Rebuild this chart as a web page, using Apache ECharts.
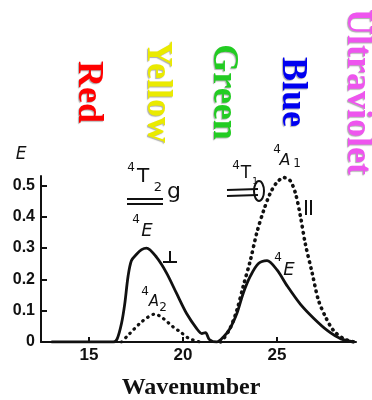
<!DOCTYPE html>
<html>
<head>
<meta charset="utf-8">
<script src="https://cdn.jsdelivr.net/npm/echarts@6/dist/echarts.min.js"></script>
<style>
html,body{margin:0;padding:0;background:#fff;}
#c{width:372px;height:400px;}
</style>
</head>
<body>
<div id="c"></div>
<script>
// ---- data ----
var xTicks = [15, 20, 25];
var yTicks = [0, 0.1, 0.2, 0.3, 0.4, 0.5];
var bandLabels = ['Red', 'Yellow', 'Green', 'Blue', 'Ultraviolet'];
var bandColors = ['#ff0000', '#eaea00', '#22cc22', '#0000f0', '#ee55ee'];

// solid curve (E perpendicular)
var perpX = [13.0, 16.3, 16.5, 16.73, 16.9, 17.08, 17.26, 17.53, 17.8, 18.06, 18.6, 19.13, 19.66, 20.2, 20.73, 21.0, 21.2, 21.4, 21.8, 22.15, 22.5, 22.86, 23.2, 23.58, 24.0, 24.47, 25.0, 25.53, 26.25, 26.96, 27.67, 28.4, 29.1];
var perpY = [0, 0, 0.01, 0.059, 0.12, 0.21, 0.26, 0.28, 0.295, 0.30, 0.27, 0.22, 0.155, 0.09, 0.043, 0.027, 0.03, 0.008, 0, 0.016, 0.043, 0.09, 0.155, 0.21, 0.25, 0.26, 0.23, 0.18, 0.12, 0.075, 0.037, 0.01, 0];

// dotted curve (E parallel), 4A2 band
var a2X = [16.73, 17.17, 17.7, 18.15, 18.5, 18.95, 19.48, 19.84, 20.3, 20.9];
var a2Y = [0, 0.027, 0.059, 0.08, 0.089, 0.075, 0.048, 0.033, 0.012, 0];
// dotted curve, 4A1 band
var a1X = [22.0, 22.15, 22.5, 22.86, 23.2, 23.58, 23.93, 24.29, 24.64, 25.0, 25.36, 25.7, 25.98, 26.25, 26.5, 26.87, 27.2, 27.58, 28.0, 28.56, 29.1];
var a1Y = [0, 0.01, 0.043, 0.1, 0.177, 0.26, 0.35, 0.42, 0.475, 0.51, 0.525, 0.515, 0.475, 0.40, 0.315, 0.22, 0.134, 0.08, 0.037, 0.01, 0];

function pairs(xs, ys) { return xs.map(function (x, i) { return [x, ys[i]]; }); }

var chart = echarts.init(document.getElementById('c'), null, { renderer: 'canvas' });

var ink = '#111';
var hand = 'DejaVu Sans';
function t(x, y, s, size, italic) {
  return { type: 'text', x: x, y: y, silent: true,
    style: { text: s, fill: ink, font: (italic ? 'italic ' : '') + size + 'px "' + hand + '"', align: 'center', verticalAlign: 'middle' } };
}
function ln(x1, y1, x2, y2) {
  return { type: 'line', silent: true, shape: { x1: x1, y1: y1, x2: x2, y2: y2 }, style: { stroke: ink, lineWidth: 2 } };
}

var bandX = [88, 157, 223, 292, 357];
var graphics = bandLabels.map(function (s, i) {
  return { type: 'text', x: bandX[i], y: 92, rotation: -Math.PI / 2, silent: true,
    style: { text: s, fill: bandColors[i], font: 'bold 36px "Liberation Serif"', align: 'center', verticalAlign: 'middle',
      textShadowColor: 'rgba(120,120,120,0.6)', textShadowBlur: 1, textShadowOffsetX: -1, textShadowOffsetY: 1 } };
});
graphics = graphics.concat([
  t(21, 155, 'E', 17, true),
  // 4T2g
  t(131, 168, '4', 12), t(143, 177, 'T', 20), t(158, 188, '2', 13), t(174, 192, 'g', 22),
  ln(127, 199, 163, 199), ln(127, 204, 163, 204),
  // 4E left
  t(136, 220, '4', 12), t(147, 231, 'E', 18, true),
  // perpendicular sign
  ln(170, 251, 170, 262), ln(163, 262, 177, 262),
  // 4A2
  t(145, 292, '4', 12), t(154, 302, 'A', 15, true), t(163, 308, '2', 12),
  // 4A1
  t(277, 150, '4', 12), t(285, 161, 'A', 16, true), t(297, 164, '1', 12),
  // 4T1g
  t(236, 166, '4', 12), t(246, 174, 'T', 17), t(255, 182, '1', 9),
  { type: 'ellipse', silent: true, shape: { cx: 259, cy: 191, rx: 5, ry: 10 }, style: { fill: null, stroke: ink, lineWidth: 2 } },
  ln(227, 190, 258, 189), ln(227, 196, 258, 195),
  // parallel sign
  ln(306, 200, 306, 215), ln(311, 200, 311, 215),
  // 4E right
  t(278, 258, '4', 12), t(289, 270, 'E', 18, true),
  { type: 'text', x: 191, y: 388, silent: true,
    style: { text: 'Wavenumber', fill: '#111', font: 'bold 24px "Liberation Serif"', align: 'center', verticalAlign: 'middle' } }
]);

chart.setOption({
  animation: false,
  backgroundColor: '#fff',
  grid: { left: 41, right: 16, top: 176, bottom: 58, containLabel: false },
  xAxis: {
    type: 'value', min: 12.45, max: 29.2,
    splitLine: { show: false },
    axisLine: { show: true, lineStyle: { color: ink, width: 2 } },
    axisTick: { show: true, inside: true, length: 5, customValues: xTicks, lineStyle: { color: ink, width: 2 } },
    axisLabel: { customValues: xTicks, margin: 5, color: ink, fontFamily: 'Liberation Sans', fontWeight: 'bold', fontSize: 17 }
  },
  yAxis: {
    type: 'value', min: 0, max: 0.53, interval: 0.1,
    splitLine: { show: false },
    axisLine: { show: true, lineStyle: { color: ink, width: 2 } },
    axisTick: { show: true, inside: true, length: 6, lineStyle: { color: ink, width: 2 } },
    axisLabel: { showMaxLabel: false, margin: 6, color: ink, fontFamily: 'Liberation Sans', fontWeight: 'bold', fontSize: 16,
      formatter: function (v) { return yTicks.indexOf(Math.round(v * 10) / 10) >= 0 ? (v === 0 ? '0' : v.toFixed(1)) : ''; } }
  },
  series: [
    { type: 'line', data: pairs(perpX, perpY), smooth: 0.3, showSymbol: false, lineStyle: { color: ink, width: 2.8 } },
    { type: 'line', data: pairs(a2X, a2Y), smooth: 0.3, showSymbol: false, lineStyle: { color: ink, width: 3.2, type: [0.5, 5.5], cap: 'round' } },
    { type: 'line', data: pairs(a1X, a1Y), smooth: 0.3, showSymbol: false, lineStyle: { color: ink, width: 3.6, type: [0.5, 5.5], cap: 'round' } }
  ],
  graphic: graphics
});
</script>
</body>
</html>
